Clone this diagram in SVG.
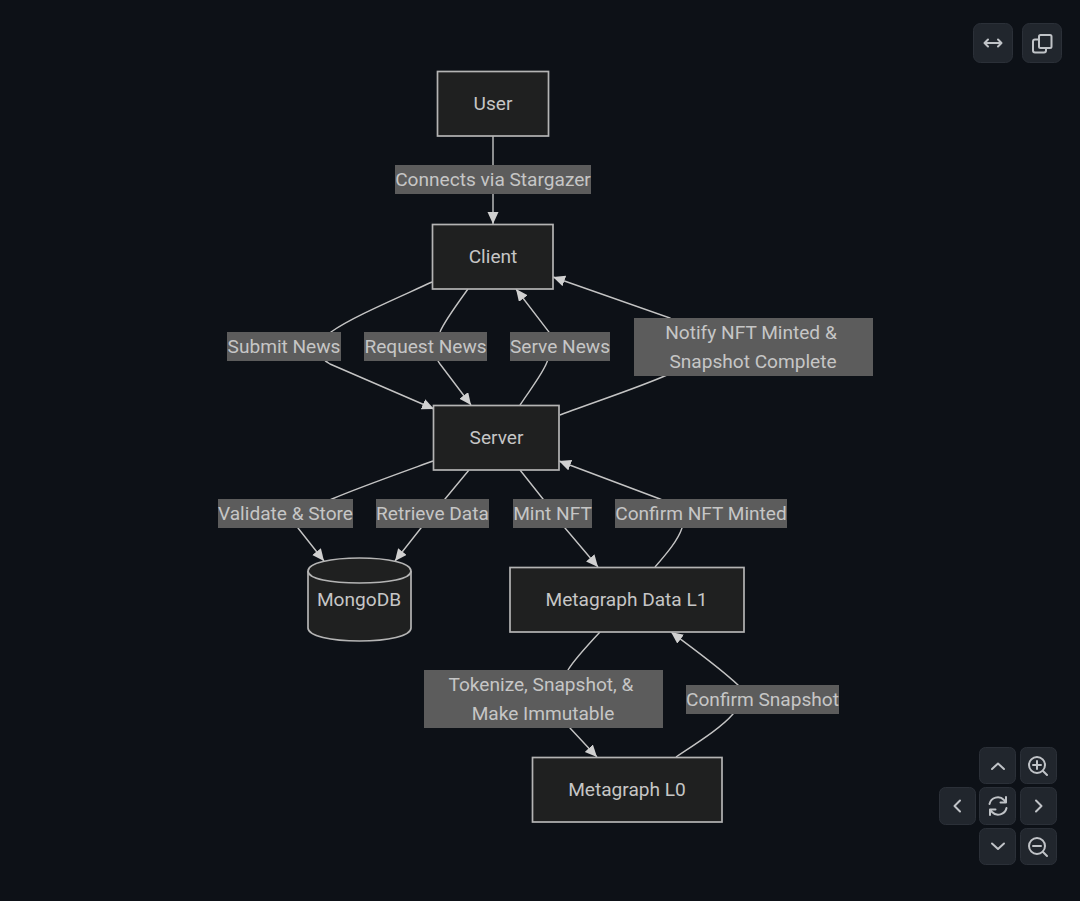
<svg xmlns="http://www.w3.org/2000/svg" width="1080" height="901" viewBox="0 0 1080 901">
<style>
text{font-family:Roboto,"Noto Sans",sans-serif;font-size:19.1px;fill:#c6c6c6;text-anchor:middle}
.n{fill:#1f2020;stroke:#b4b4b4;stroke-width:1.7}
.e{fill:none;stroke:#c4c4c4;stroke-width:1.4;marker-end:url(#a)}
.p{fill:none;stroke:#b4b4b4;stroke-width:1.7}
.l{fill:#5c5c5c}
.b{fill:#21262d;stroke:#2b3038;stroke-width:1}
.i{fill:none;stroke:#c0c3c7;stroke-width:2;stroke-linecap:round;stroke-linejoin:round}
</style>
<defs>
<marker id="a" markerUnits="userSpaceOnUse" markerWidth="13" markerHeight="12" refX="12" refY="5.5" orient="auto"><path d="M0,0L12,5.500L0,11z" fill="#d0d0d0"/></marker>
</defs>
<rect width="1080" height="901" fill="#0d1117"/>
<g id="connectors">
<path class="e" d="M493,136L493,224"/>
<path class="e" d="M432,282C395,299 350,318 331,332C320,342 315,356 330,364L434,409"/>
<path class="e" d="M468,289C455,307 444,322 440,332C434,345 430,350 440,364L471,405"/>
<path class="e" d="M520,405C532,387 543,373 547,362C552,350 556,346 549,332L516,289"/>
<path class="e" d="M560,415C600,400 640,387 667,375L670,318L553,277"/>
<path class="e" d="M433,461C400,473 355,489 332,499C312,508 290,515 298,528L324,561"/>
<path class="e" d="M469,470L445,499L421,528L395,561"/>
<path class="e" d="M520,470L543,499L565,528L598,567"/>
<path class="e" d="M655,567C668,552 678,540 682,528C688,512 675,505 660,499L559,461"/>
<path class="e" d="M600,632C585,648 574,660 568,670C558,690 555,710 570,728L597,757"/>
<path class="e" d="M676,757C700,741 722,727 733,714C745,702 748,695 738,685C720,668 695,650 671,632"/>
</g>
<g id="edge-labels">
<g><rect class="l" x="395" y="165" width="196" height="29"/><text x="493" y="186">Connects via Stargazer</text></g>
<g><rect class="l" x="227" y="332" width="114" height="29"/><text x="284" y="353">Submit News</text></g>
<g><rect class="l" x="364" y="332" width="123" height="29"/><text x="425.500" y="353">Request News</text></g>
<g><rect class="l" x="510" y="332" width="100" height="29"/><text x="560" y="353">Serve News</text></g>
<g><rect class="l" x="634" y="318" width="239" height="58"/><text x="751" y="339">Notify NFT Minted &amp;</text><text x="753" y="368">Snapshot Complete</text></g>
<g><rect class="l" x="218" y="499" width="135" height="29"/><text x="285.500" y="520">Validate &amp; Store</text></g>
<g><rect class="l" x="376" y="499" width="113" height="29"/><text x="432.500" y="520">Retrieve Data</text></g>
<g><rect class="l" x="513" y="499" width="79" height="29"/><text x="552.500" y="520">Mint NFT</text></g>
<g><rect class="l" x="615" y="499" width="172" height="29"/><text x="701" y="520">Confirm NFT Minted</text></g>
<g><rect class="l" x="424" y="670" width="239" height="58"/><text x="541" y="691">Tokenize, Snapshot, &amp;</text><text x="543" y="720">Make Immutable</text></g>
<g><rect class="l" x="686" y="685" width="153" height="29"/><text x="762.500" y="706">Confirm Snapshot</text></g>
</g>
<g id="user"><rect class="n" x="437.500" y="71.500" width="111" height="64.500"/><text x="493" y="110">User</text></g>
<g id="client"><rect class="n" x="432.500" y="224.500" width="120.500" height="64.500"/><text x="493" y="263">Client</text></g>
<g id="server"><rect class="n" x="433.500" y="405.500" width="125.500" height="64.500"/><text x="496.500" y="444">Server</text></g>
<g id="mongodb"><path class="n" d="M308,571C308,563 331,558 359.500,558C388,558 411,563 411,571L411,628C411,636 388,641 359.500,641C331,641 308,636 308,628Z"/><path class="p" d="M308,571C308,579 331,583 359.500,583C388,583 411,579 411,571"/><text x="359" y="606">MongoDB</text></g>
<g id="metagraph-l1"><rect class="n" x="510" y="567.500" width="234" height="64.500"/><text x="626.500" y="606">Metagraph Data L1</text></g>
<g id="metagraph-l0"><rect class="n" x="532.500" y="757.500" width="189.500" height="64.500"/><text x="627" y="796">Metagraph L0</text></g>
<g id="toolbar">
<rect class="b" x="973.500" y="23.500" width="39" height="39" rx="7"/>
<rect class="b" x="1022.500" y="23.500" width="39" height="39" rx="7"/>
<path class="i" d="M985,43H1001M988,39.500L984.500,43L988,46.500M998,39.500L1001.500,43L998,46.500"/>
<rect class="i" x="1039" y="35" width="12.500" height="13" rx="1.500"/>
<path class="i" d="M1039,39.500H1035C1033.500,39.500 1033,40 1033,41.500V50.500C1033,52 1033.500,52.500 1035,52.500H1044C1045.500,52.500 1046,52 1046,50.500V48"/>
<rect class="b" x="979.500" y="747.500" width="36" height="36" rx="6"/>
<rect class="b" x="1020.500" y="747.500" width="36" height="36" rx="6"/>
<rect class="b" x="939.500" y="787.500" width="36" height="37" rx="6"/>
<rect class="b" x="979.500" y="787.500" width="36" height="37" rx="6"/>
<rect class="b" x="1020.500" y="787.500" width="36" height="37" rx="6"/>
<rect class="b" x="979.500" y="828.500" width="36" height="36" rx="6"/>
<rect class="b" x="1020.500" y="828.500" width="36" height="36" rx="6"/>
<path class="i" d="M992,769L998,763.500L1004,769"/>
<path class="i" d="M960,800.500L954.500,806L960,811.500"/>
<path class="i" d="M1036,800.500L1041.500,806L1036,811.500"/>
<path class="i" d="M992,843.500L998,849L1004,843.500"/>
<circle class="i" cx="1037" cy="765" r="8"/><path class="i" d="M1043,771L1047,775M1037,761V769M1033,765H1041"/>
<circle class="i" cx="1037" cy="846" r="8"/><path class="i" d="M1043,852L1047,856M1033,846H1041"/>
<path class="i" d="M989.500,804A8.500,8.500 0 0 1 1004,800L1006,802.500M1006,797V802.500H1000.500M1006.500,808A8.500,8.500 0 0 1 992,812L990,809.500M990,815V809.500H995.500"/>
</g>
</svg>
